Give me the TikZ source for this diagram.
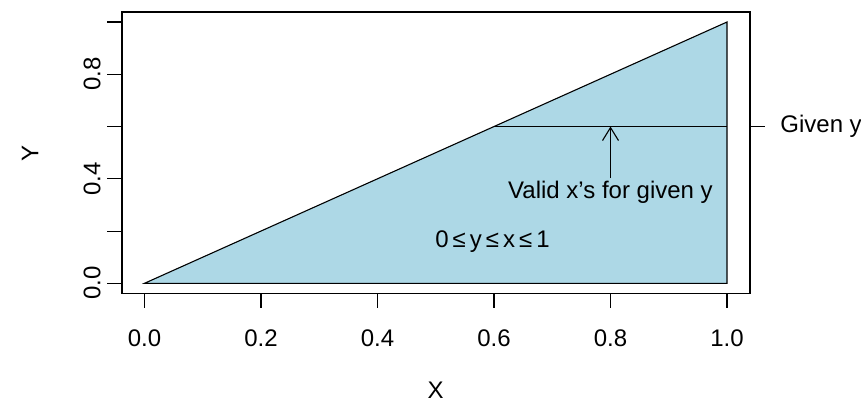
\documentclass[tikz,border=0pt]{standalone}
\usepackage{fontspec}
\setmainfont{Liberation Sans}
\usetikzlibrary{arrows.meta}
\definecolor{lblue}{RGB}{173,216,230}
\tikzset{
  ax/.style={line width=0.55pt, line cap=butt},
  lbl/.style={inner sep=0pt, font=\fontsize{12}{14}\selectfont},
}
\begin{document}
\begin{tikzpicture}[x=0.5pt,y=-0.5pt]
\useasboundingbox (0,0) rectangle (861,404);
% data -> pixel: px = 144.5 + 582.5 X ; py = 283.3 - 261.3 Y
\coordinate (o) at (144.5,283.3);
\coordinate (a) at (727,22);
\coordinate (b) at (727,283.3);
\fill[lblue] (o) -- (a) -- (b) -- cycle;
\draw[ax, line join=miter] (o) -- (a) -- (b) -- cycle;
% given y line
\coordinate (g1) at (494,126.5);
\coordinate (g2) at (727,126.5);
\draw[ax] (g1) -- (g2);
% arrow
\coordinate (ab) at (610.5,178);
\coordinate (at) at (610.5,126.5);
\draw[ax, -{Straight Barb[length=6.5pt,width=8pt]}] (ab) -- (at);
\node[lbl, below] (valid) at (610.5,181) {Valid x’s for given y};
\node[lbl] (ineq) at (492.5,242) {0\,≤\,y\,≤\,x\,≤\,1};
% box
\draw[ax, line cap=rect] (122,12) rectangle (750,293.3);
% x ticks
\foreach \v/\t [count=\i] in {0/0.0,0.2/0.2,0.4/0.4,0.6/0.6,0.8/0.8,1/1.0}{
  \pgfmathsetmacro{\px}{144.5+582.5*\v}
  \draw[ax] (\px,293.3) -- (\px,308.3);
  \node[lbl] (xt\i) at (\px,338) {\t};
}
% y ticks
\foreach \v in {0,0.2,0.4,0.6,0.8,1}{
  \pgfmathsetmacro{\py}{283.3-261.3*\v}
  \draw[ax] (122,\py) -- (107,\py);
}
\foreach \v/\t [count=\i] in {0/0.0,0.4/0.4,0.8/0.8}{
  \pgfmathsetmacro{\py}{283.3-261.3*\v}
  \node[lbl, rotate=90] (yt\i) at (92,\py) {\t};
}
% given y margin label
\coordinate (gt1) at (750,126.5);
\coordinate (gt2) at (765,126.5);
\draw[ax] (gt1) -- (gt2);
\node[lbl, anchor=west] (given) at (780,126.5) {Given y};
% axis titles
\node[lbl] (xlab) at (435.5,390) {X};
\node[lbl, rotate=90] (ylab) at (30,153) {Y};
\end{tikzpicture}
\end{document}
